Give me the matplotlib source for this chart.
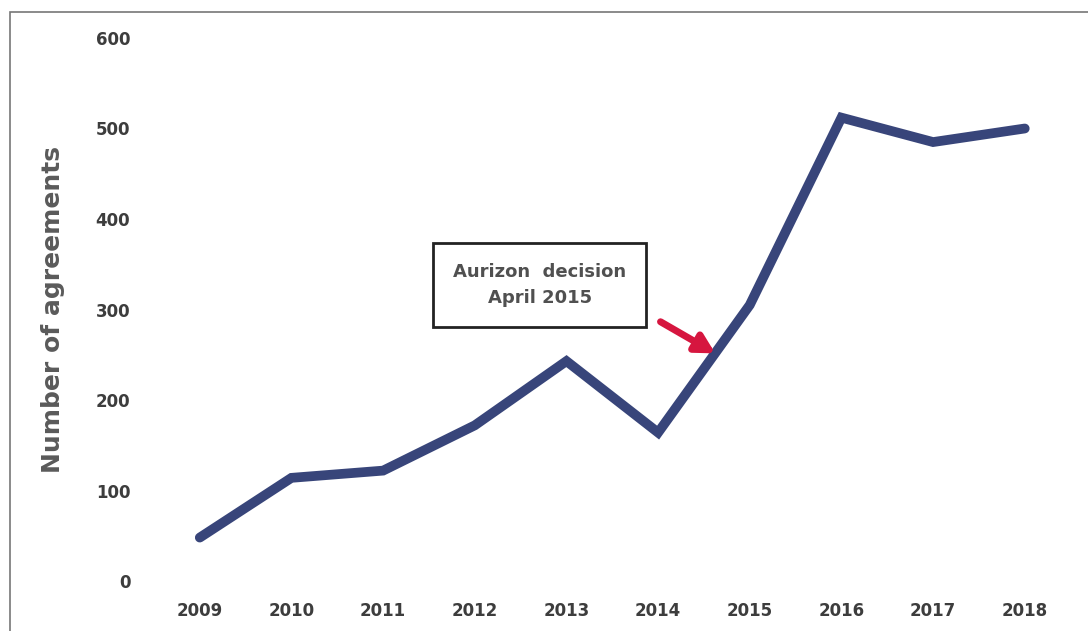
import matplotlib.pyplot as plt
from matplotlib.patches import Rectangle

years = [2009, 2010, 2011, 2012, 2013, 2014, 2015, 2016, 2017, 2018]
agreements = [48, 114, 122, 172, 243, 164, 305, 512, 485, 500]
y_ticks = [0, 100, 200, 300, 400, 500, 600]

line_color = '#38457a'
text_color = '#3d3d3d'

fig = plt.figure(figsize=(10.88, 6.31), dpi=100)
ax = fig.add_axes([0.1415, 0.0792, 0.8425, 0.8606])

ax.plot(years, agreements, color=line_color, linewidth=7,
        solid_capstyle='round', solid_joinstyle='miter')

ax.set_xlim(2008.5, 2018.5)
ax.set_ylim(0, 600)
ax.set_xticks(years)
ax.set_yticks(y_ticks)
ax.tick_params(length=0, labelsize=12, labelcolor=text_color)
ax.tick_params(axis='y', pad=17)
ax.tick_params(axis='x', pad=15)
for lbl in ax.get_xticklabels() + ax.get_yticklabels():
    lbl.set_fontweight('bold')
for s in ax.spines.values():
    s.set_visible(False)

ax.set_ylabel('Number of agreements', fontsize=18, fontweight='bold',
              color='#5a5a5a', labelpad=22)

# annotation box and arrow
ax.text(2012.71, 327, 'Aurizon  decision\nApril 2015', ha='center', va='center',
        fontsize=13, fontweight='bold', color='#505050', linespacing=1.6,
        bbox=dict(boxstyle='square,pad=1.1', facecolor='white',
                  edgecolor='#222222', linewidth=2))
ax.annotate('', xy=(2014.65, 250), xytext=(2014.0, 288),
            arrowprops=dict(arrowstyle='-|>,head_length=1.1,head_width=0.6',
                            color='#d6163f', linewidth=5))

# outer border of the scanned figure
fig.patches.append(Rectangle((10 / 1088, -0.05), 1.1, 1.05 - 12 / 631,
                             transform=fig.transFigure, fill=False,
                             edgecolor='#777777', linewidth=1.2))

fig.savefig('out.png', dpi=100)
